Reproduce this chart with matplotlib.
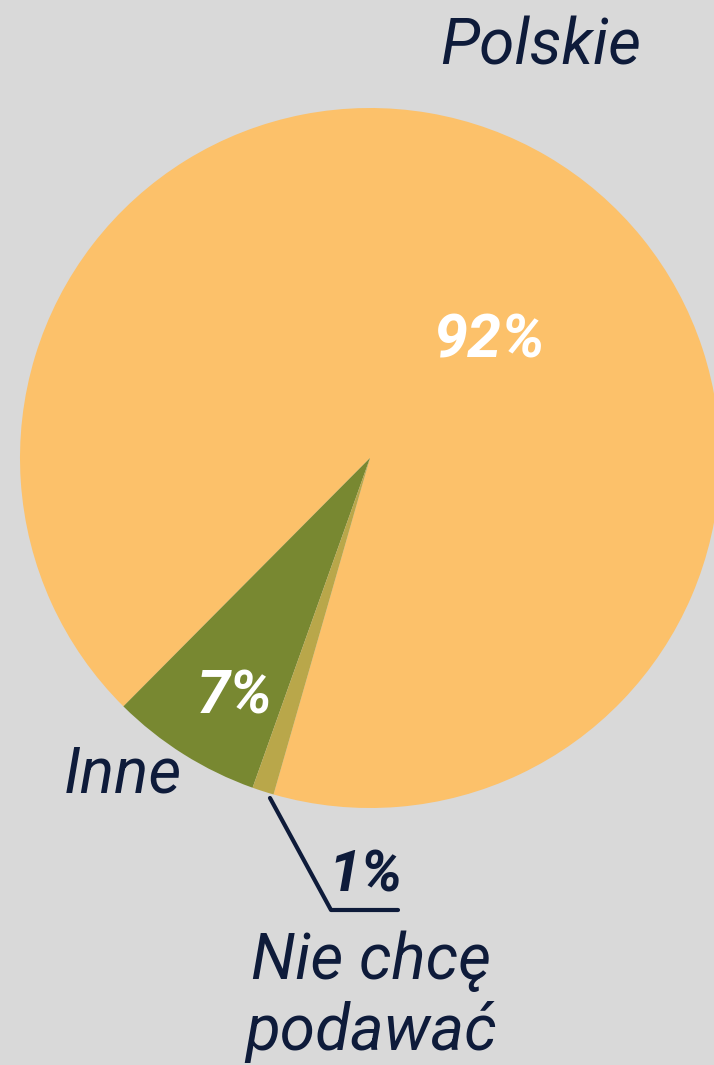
import matplotlib.pyplot as plt

categories = ["Polskie", "Inne", "Nie chcę\npodawać"]
values = [92, 7, 1]
pct_labels = ["92%", "7%", "1%"]
colors = ["#FCC16A", "#788831", "#B9A74A"]

bg = "#D9D9D9"
navy = "#0E1B3A"
plt.rcParams["font.family"] = ["Roboto", "DejaVu Sans"]


def main():
    fig = plt.figure(figsize=(7.14, 10.65), dpi=100, facecolor=bg)
    ax = fig.add_axes([0, 0, 1, 1])
    ax.set_facecolor(bg)

    # y axis is flipped below, so clockwise in data = counterclockwise on screen
    ax.pie(values, colors=colors, startangle=106, counterclock=False,
           center=(370, 458), radius=350, frame=True,
           wedgeprops=dict(linewidth=0))
    ax.set_xlim(0, 714)
    ax.set_ylim(1065, 0)
    ax.set_aspect("equal")
    ax.axis("off")

    ax.text(541, 47, categories[0], fontsize=46, style="italic", color=navy,
            ha="center", va="center")
    ax.text(123, 775, categories[1], fontsize=46, style="italic", color=navy,
            ha="center", va="center")
    ax.text(371, 997, categories[2], fontsize=46, style="italic", color=navy,
            ha="center", va="center", linespacing=1.18)

    ax.text(489, 340, pct_labels[0], fontsize=44, style="italic", weight="bold",
            color="white", ha="center", va="center")
    ax.text(235, 697, pct_labels[1], fontsize=43, style="italic", weight="bold",
            color="white", ha="center", va="center")
    ax.text(366, 876, pct_labels[2], fontsize=42, style="italic", weight="bold",
            color=navy, ha="center", va="center")

    ax.plot([270, 331, 398], [798, 910, 910], color=navy, lw=3,
            solid_capstyle="round", solid_joinstyle="round")

    fig.savefig("out.png", dpi=100, facecolor=bg)
    plt.close(fig)


if __name__ == "__main__":
    main()
